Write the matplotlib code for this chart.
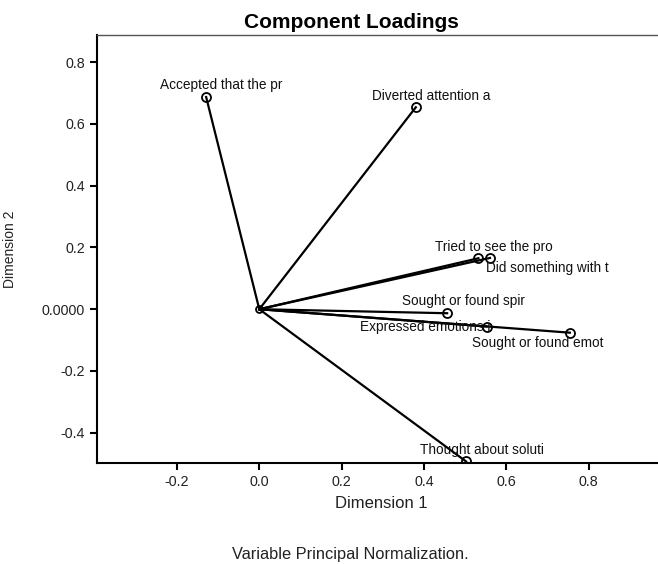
import matplotlib.pyplot as plt
import numpy as np

plt.rcParams['font.family'] = ['Liberation Sans', 'DejaVu Sans']

# component loadings, dimension 1 / dimension 2
labels = ["Accepted that the pr", "Diverted attention a", "Tried to see the pro",
          "Did something with t", "Sought or found spir", "Expressed emotions i",
          "Sought or found emot", "Thought about soluti"]
dim1 = np.array([-0.129, 0.380, 0.532, 0.560, 0.456, 0.552, 0.754, 0.502])
dim2 = np.array([0.687, 0.654, 0.165, 0.166, -0.013, -0.056, -0.076, -0.493])

# label offsets in pixels and alignment
offsets = [(15, 12), (15, 11), (15, 11), (57, -10), (16, 12), (4, 0), (-32, -10), (16, 11)]
aligns = ["center", "center", "center", "center", "center", "right", "center", "center"]

fig = plt.figure(figsize=(6.58, 5.64), dpi=100)
ax = fig.add_axes([97 / 658, 1 - 463 / 564, (665 - 97) / 658, (463 - 35) / 564])

for x, y in zip(dim1, dim2):
    ax.plot([0, x], [0, y], color="black", lw=1.6, zorder=2)
ax.plot(dim1, dim2, "o", ms=6.5, mfc="none", mec="black", mew=1.3, zorder=3)
ax.plot([0], [0], "o", ms=5, mfc="none", mec="black", mew=1.3, zorder=3)

for lab, x, y, off, ha in zip(labels, dim1, dim2, offsets, aligns):
    ax.annotate(lab, (x, y), xytext=off, textcoords="offset pixels",
                ha=ha, va="center", fontsize=9.8, color="#111111")

ax.set_xlim(-0.394, 0.985)
ax.set_ylim(-0.498, 0.888)
ax.set_xticks([-0.2, 0.0, 0.2, 0.4, 0.6, 0.8])
ax.set_xticklabels(["-0.2", "0.0", "0.2", "0.4", "0.6", "0.8"])
ax.set_yticks([-0.4, -0.2, 0.0, 0.2, 0.4, 0.6, 0.8])
ax.set_yticklabels(["-0.4", "-0.2", "0.0000", "0.2", "0.4", "0.6", "0.8"])
ax.tick_params(direction="out", length=5, width=1.5, labelsize=10.3, colors="black",
               labelcolor="#222222")

ax.spines["right"].set_visible(False)
ax.spines["left"].set_linewidth(1.5)
ax.spines["bottom"].set_linewidth(1.5)
ax.spines["top"].set_linewidth(1.0)
ax.spines["top"].set_color("#555555")

ax.set_xlabel("Dimension 1", fontsize=12, labelpad=5, color="#222222")
ax.set_ylabel("Dimension 2", fontsize=10, labelpad=18, color="#222222")
fig.text(351 / 658, 1 - 22 / 564, "Component Loadings",
         ha="center", va="center", fontsize=15, fontweight="bold")
fig.text(350 / 658, 1 - 559 / 564, "Variable Principal Normalization.",
         ha="center", va="baseline", fontsize=11.8, color="#222222")

fig.savefig("out.png", dpi=100)
